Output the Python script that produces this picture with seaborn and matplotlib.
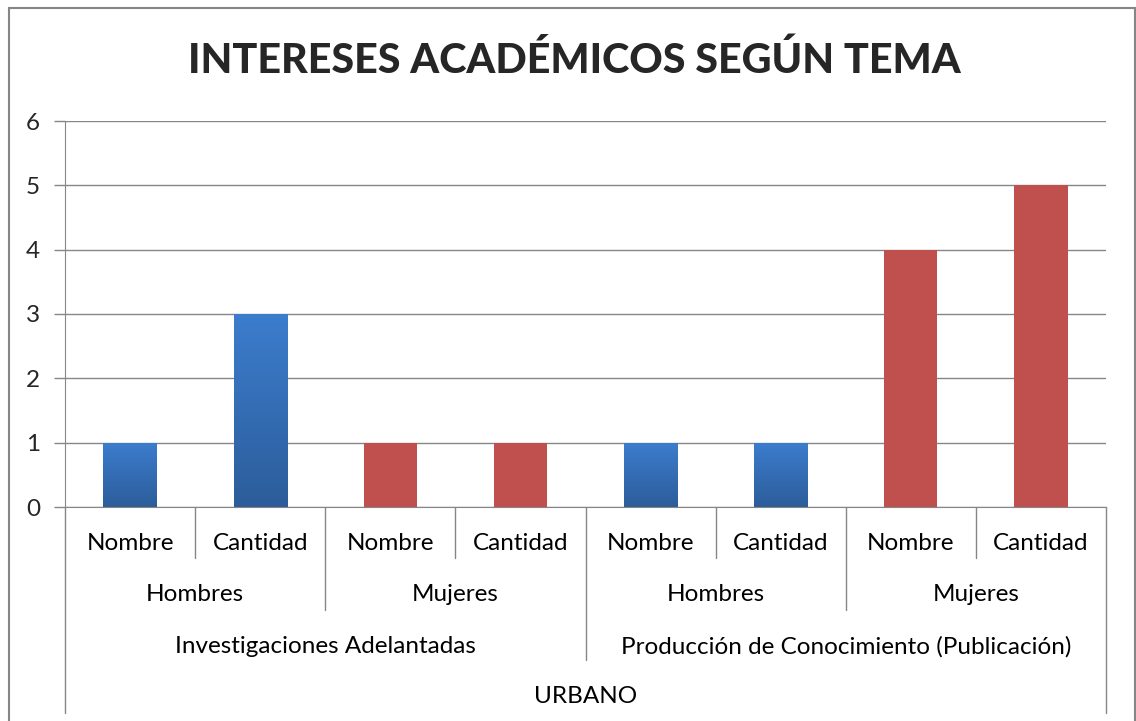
import numpy as np
import pandas as pd
import matplotlib
matplotlib.use("Agg")
import matplotlib.pyplot as plt
import matplotlib.transforms as mtransforms
from matplotlib.patches import Rectangle
import seaborn as sns

# data
zona = "URBANO"
temas = ["Investigaciones Adelantadas", "Producción de Conocimiento (Publicación)"]
sexos = ["Hombres", "Mujeres"]
campos = ["Nombre", "Cantidad"]
valores = [1, 3, 1, 1, 1, 1, 4, 5]
colores = {"Hombres": "#3B7BC8", "Mujeres": "#C0504D"}

rows = []
i = 0
for t in temas:
    for s in sexos:
        for c in campos:
            rows.append({"id": f"{t}|{s}|{c}", "tema": t, "sexo": s,
                         "campo": c, "valor": valores[i]})
            i += 1
df = pd.DataFrame(rows)

sns.set_style("white")
plt.rcParams['font.family'] = ['Lato', 'DejaVu Sans']

fig = plt.figure(figsize=(11.36, 7.21), dpi=100)
ax = fig.add_axes([65 / 1136, 1 - 507 / 721, (1106 - 65) / 1136, (507 - 121) / 721])

sns.barplot(data=df, x="id", y="valor", hue="sexo", palette=colores,
            dodge=False, width=0.41, legend=False, ax=ax, saturation=1,
            linewidth=0)

# gradient on the blue bars
grad = np.linspace(0, 1, 256).reshape(-1, 1)
cmap_blue = matplotlib.colors.LinearSegmentedColormap.from_list(
    "azul", ["#2C5D9A", "#3C7DCE"])
for p in ax.patches:
    fc = matplotlib.colors.to_hex(p.get_facecolor())
    if fc.lower() == colores["Hombres"].lower():
        x0, y0 = p.get_x(), p.get_y()
        w, h = p.get_width(), p.get_height()
        im = ax.imshow(grad, cmap=cmap_blue, aspect="auto", origin="lower",
                       extent=[x0, x0 + w, y0, y0 + h], zorder=p.get_zorder() + 0.1)
        im.set_clip_path(p)

ax.set_xlim(-0.5, len(df) - 0.5)
ax.set_ylim(0, 6)
ax.set_yticks(range(0, 7))
ax.set_yticklabels([str(v) for v in range(0, 7)], fontsize=17.5)
ax.tick_params(axis="y", length=8, color="#868686", width=1, pad=10, left=True)
ax.set_xticks([])
ax.set_xlabel("")
ax.set_ylabel("")
ax.grid(axis="y", color="#868686", linewidth=1)
ax.set_axisbelow(True)
for side in ["top", "right"]:
    ax.spines[side].set_visible(False)
ax.spines["left"].set_color("#868686")
ax.spines["bottom"].set_color("#868686")

# hierarchical category axis
trans = mtransforms.blended_transform_factory(ax.transData, ax.transAxes)
line_kw = dict(color="#868686", linewidth=1, transform=trans, clip_on=False)
txt_kw = dict(transform=trans, ha="center", va="center", fontsize=17.5, color="#000000")

y_lvl = [-0.132, -0.267, -0.396, -0.534]
y_txt = [-0.094, -0.226, -0.361, -0.490]
n = len(df)
for k in range(n + 1):
    xb = k - 0.5
    if k == 0 or k == n:
        yb = y_lvl[3]
    elif k % 4 == 0:
        yb = y_lvl[2]
    elif k % 2 == 0:
        yb = y_lvl[1]
    else:
        yb = y_lvl[0]
    ax.plot([xb, xb], [0, yb], **line_kw)

for k, row in df.iterrows():
    ax.text(k, y_txt[0], row["campo"], **txt_kw)
for g in range(n // 2):
    ax.text(2 * g + 0.5, y_txt[1], df["sexo"][2 * g], **txt_kw)
for g in range(n // 4):
    ax.text(4 * g + 1.5, y_txt[2], df["tema"][4 * g], **txt_kw)
ax.text((n - 1) / 2, y_txt[3], zona, **txt_kw)

fig.text(574 / 1136, 1 - 60 / 721, "INTERESES ACADÉMICOS SEGÚN TEMA",
         ha="center", va="center", fontsize=29.7, fontweight="black")

# outer chart frame
fig.patches.append(Rectangle((9 / 1136, -0.05), (1135 - 9) / 1136, 1.05 - 8 / 721,
                             transform=fig.transFigure, fill=False,
                             edgecolor="#868686", linewidth=1.5))

fig.savefig("out.png", dpi=100)
